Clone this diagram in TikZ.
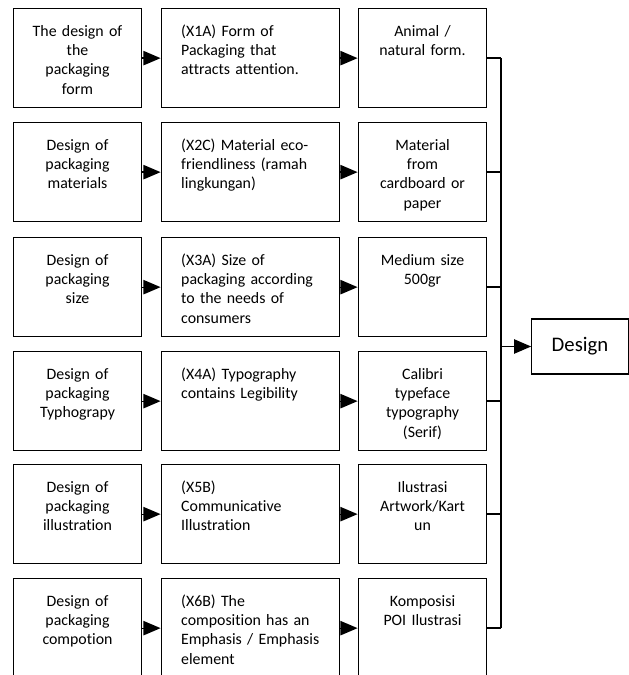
\documentclass[tikz,border=0pt]{standalone}
\usepackage{fontspec}
\setmainfont{Carlito}[Ligatures=NoCommon]
\usetikzlibrary{arrows.meta}

\begin{document}
\begin{tikzpicture}[x=0.7pt,y=-0.7pt,
  cell/.style={draw,line width=0.9pt,anchor=north,inner ysep=0pt,
    text height=19.4pt,text depth=49.9pt,font=\fontsize{11.1}{13.5}\selectfont},
  aspect/.style={cell,inner xsep=4pt,text width=82pt,align=center},
  indicator/.style={cell,inner xsep=14pt,text width=97pt,align=left},
  link/.style={line width=0.9pt,-{Triangle[length=12pt,width=10pt]}},
  bus/.style={line width=1.2pt}]
\useasboundingbox (0,0) rectangle (629,675);

% aspects
\node[aspect] (form) at (77.5,8) {The design of\\the\\packaging\\form};
\node[aspect] (material) at (77.5,122) {Design of\\packaging\\materials};
\node[aspect] (size) at (77.5,237) {Design of\\packaging\\size};
\node[aspect] (type) at (77.5,351) {Design of\\packaging\\Typhograpy};
\node[aspect] (illus) at (77.5,464) {Design of\\packaging\\illustration};
\node[aspect] (comp) at (77.5,578) {Design of\\packaging\\compotion};

% indicators
\node[indicator] (x1a) at (250.5,8) {(X1A) Form of\\Packaging that\\attracts attention.};
\node[indicator] (x2c) at (250.5,122) {(X2C) Material eco-\\friendliness (ramah\\lingkungan)};
\node[indicator] (x3a) at (250.5,237) {(X3A) Size of\\packaging according\\to the needs of\\consumers};
\node[indicator] (x4a) at (250.5,351) {(X4A) Typography\\contains Legibility};
\node[indicator] (x5b) at (250.5,464) {(X5B)\\Communicative\\Illustration};
\node[indicator] (x6b) at (250.5,578) {(X6B) The\\composition has an\\\mbox{Emphasis / Emphasis}\\element};

% results
\node[aspect] (animal) at (422.5,8) {Animal /\\natural form.};
\node[aspect] (cardboard) at (422.5,122) {Material\\from\\cardboard or\\paper};
\node[aspect] (medium) at (422.5,237) {Medium size\\500gr};
\node[aspect] (calibri) at (422.5,351) {Calibri\\typeface\\typography\\(Serif)};
\node[aspect] (artwork) at (422.5,464) {Ilustrasi\\Artwork/Kart\\un};
\node[aspect] (poi) at (422.5,578) {Komposisi\\POI Ilustrasi};

\node[draw,line width=0.9pt,minimum width=67.5pt,minimum height=38.5pt,
  font=\fontsize{14.5}{17}\selectfont] (design) at (580,346.5) {Design};
\coordinate (bus) at (501,346.5);

\foreach \a/\b in {form/x1a,material/x2c,size/x3a,type/x4a,illus/x5b,comp/x6b,
  x1a/animal,x2c/cardboard,x3a/medium,x4a/calibri,x5b/artwork,x6b/poi}
  \draw[link] (\a) -- (\b);

\foreach \n in {animal,cardboard,medium,calibri,artwork,poi}
  \draw[bus] (\n.east) -- (\n.east -| bus);
\draw[bus] (animal.east -| bus) -- (poi.east -| bus);
\draw[bus,-{Triangle[length=12pt,width=10pt]}] (bus) -- (design.west);
\end{tikzpicture}
\end{document}
